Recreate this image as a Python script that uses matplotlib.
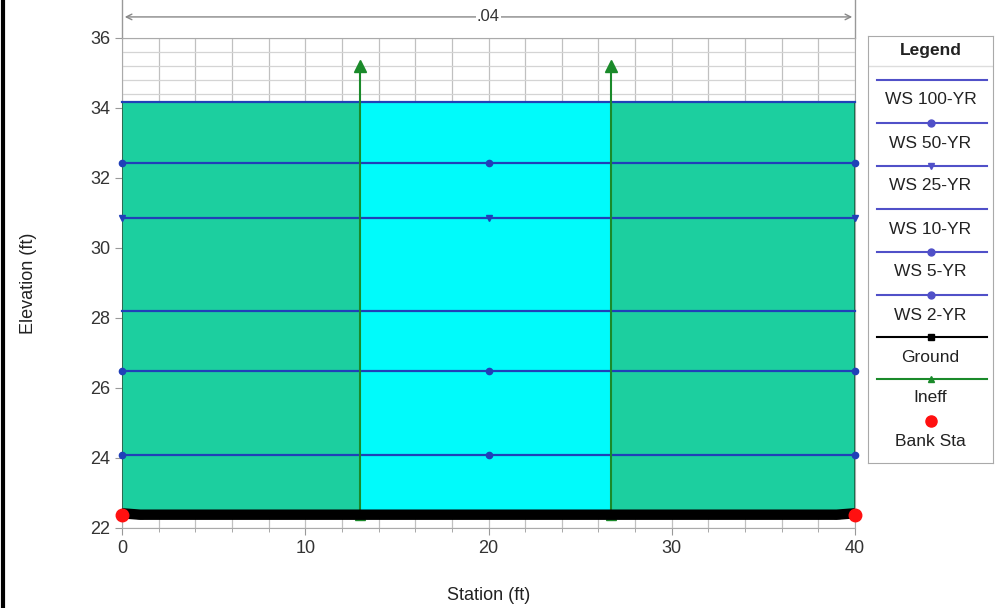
import numpy as np
import matplotlib
matplotlib.use('Agg')
import matplotlib.pyplot as plt
from matplotlib.ticker import MultipleLocator
import matplotlib.transforms as mtransforms

plt.rcParams['font.family'] = ['Liberation Sans', 'DejaVu Sans']

# water surface profiles
ws_names = ['WS 100-YR', 'WS 50-YR', 'WS 25-YR', 'WS 10-YR', 'WS 5-YR', 'WS 2-YR']
ws_elev = [34.17, 32.43, 30.86, 28.2, 26.49, 24.09]
ws_markers = [None, 'o', 'v', None, 'o', 'o']
ws_sta = [0, 20, 40]

# ground, ineffective flow, bank stations
ground_sta = [0, 1, 39, 40]
ground_elev = [22.42, 22.38, 22.38, 22.42]
ineff_sta = [13.0, 26.7]
ineff_elev = 35.2
bank_sta = [0, 40]
bank_elev = [22.38, 22.38]
mann_n = '.04'

teal = '#1ccf9f'
cyan = '#00fbfb'
blue = '#2040b8'
green = '#1a8a2a'

fig = plt.figure(figsize=(10.02, 6.08), dpi=100)
fig.patch.set_facecolor('white')
ax = fig.add_axes([122/1002, 1-528/608, 733/1002, 490/608])

# fill between ground and top water surface
x_edges = [ground_sta[0], ineff_sta[0], ineff_sta[1], ground_sta[-1]]
fill_cols = [teal, cyan, teal]
for i in range(3):
    xs = np.array([x_edges[i], x_edges[i+1]])
    base = np.interp(xs, ground_sta, ground_elev)
    ax.fill_between(xs, base, ws_elev[0], color=fill_cols[i], lw=0, zorder=2)
ax.plot([0, 0], [ground_elev[0], ws_elev[0]], color='#106040', lw=1.2, zorder=3)
ax.plot([40, 40], [ground_elev[-1], ws_elev[0]], color='#106040', lw=1.2, zorder=3)

# water surface lines
for name, e, m in zip(ws_names, ws_elev, ws_markers):
    ax.plot(ws_sta, [e]*len(ws_sta), color=blue, lw=1.6, marker=m, ms=4.5,
            zorder=4, clip_on=False)

# ineffective flow markers
for s in ineff_sta:
    g = np.interp(s, ground_sta, ground_elev)
    ax.plot([s, s], [g, ineff_elev], color=green, lw=1.5, zorder=5)
    ax.plot([s], [ineff_elev], marker='^', color=green, ms=8, zorder=5)
    ax.plot([s], [g], marker='^', color=green, ms=7, zorder=5, clip_on=False)

# ground
ax.plot(ground_sta, ground_elev, color='black', lw=7.5, solid_capstyle='butt', zorder=6)
ax.plot(ground_sta[1:-1], ground_elev[1:-1], 's', color='black', ms=5, zorder=6)

# bank stations
ax.plot(bank_sta, bank_elev, 'o', color='#ff1010', ms=9, zorder=7, clip_on=False)

ax.set_xlim(0, 40)
ax.set_ylim(22, 36)
ax.xaxis.set_major_locator(MultipleLocator(10))
ax.xaxis.set_minor_locator(MultipleLocator(2))
ax.yaxis.set_major_locator(MultipleLocator(2))
ax.yaxis.set_minor_locator(MultipleLocator(0.4))
ax.grid(which='minor', axis='x', color='#c0c0c0', lw=0.9, zorder=0)
ax.grid(which='major', axis='x', color='#c0c0c0', lw=0.9, zorder=0)
ax.grid(which='minor', axis='y', color='#d4d4d4', lw=0.9, zorder=0)
ax.grid(which='major', axis='y', color='#c0c0c0', lw=0.9, zorder=0)
ax.set_axisbelow(True)
ax.tick_params(which='major', length=5, color='#999999', labelsize=13, labelcolor='#333333')
ax.tick_params(axis='x', which='minor', length=3, color='#999999')
ax.tick_params(axis='y', which='minor', length=0)
for sp in ax.spines.values():
    sp.set_color('#aaaaaa')

ax.set_xlabel('Station (ft)', fontsize=13, color='#222222', labelpad=22)
ax.set_ylabel('Elevation (ft)', fontsize=13, color='#222222', labelpad=38)

# Manning's n annotation above the plot
trans = mtransforms.blended_transform_factory(ax.transData, ax.transAxes)
for s in [0, 40]:
    ax.plot([s, s], [1.0, 1.08], color='#999999', lw=1, transform=trans, clip_on=False)
ax.annotate('', xy=(0, 1.043), xytext=(40, 1.043), xycoords=trans, textcoords=trans,
            arrowprops=dict(arrowstyle='<->', color='#888888', lw=1))
ax.text(20, 1.043, mann_n, transform=trans, ha='center', va='center', fontsize=12,
        color='#333333', bbox=dict(facecolor='white', edgecolor='none', pad=1))

# legend box
lax = fig.add_axes([868/1002, 1-463/608, 125/1002, 427/608])
lax.set_xlim(0, 1)
lax.set_ylim(463, 36)
lax.set_xticks([])
lax.set_yticks([])
for sp in lax.spines.values():
    sp.set_color('#aaaaaa')
lax.text(0.5, 50, 'Legend', ha='center', va='center', fontsize=12.5, fontweight='bold', color='#222222')
lax.plot([0.0, 1.0], [66, 66], color='#dddddd', lw=1)
line_y = [80, 123, 166, 209, 252, 295, 337, 379]
text_y = [99, 143, 186, 229, 272, 316, 357, 398]
entries = list(zip(ws_names, [blue]*6, ws_markers)) + [('Ground', 'black', 's'), ('Ineff', green, '^')]
for (name, c, m), ly, ty in zip(entries, line_y, text_y):
    lc = '#5050c8' if c == blue else c
    lax.plot([0.07, 0.95], [ly, ly], color=lc, lw=1.5)
    if m is not None:
        lax.plot([0.5], [ly], marker=m, color=lc, ms=5)
    lax.text(0.5, ty, name, ha='center', va='center', fontsize=12.5, color='#222222')
lax.plot([0.5], [421], 'o', color='#ff1010', ms=8)
lax.text(0.5, 442, 'Bank Sta', ha='center', va='center', fontsize=12.5, color='#222222')

# dark frame on left edge
fig.add_artist(plt.Line2D([0.003, 0.003], [0, 1], color='black', lw=3, transform=fig.transFigure))

fig.savefig('out.png', dpi=100)
